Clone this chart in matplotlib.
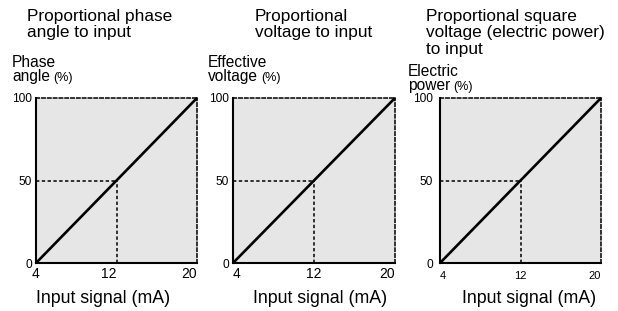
import matplotlib.pyplot as plt

plt.rcParams["font.family"] = ["Liberation Sans", "DejaVu Sans"]

W, H = 618, 311
DPI = 100

# data shared by the three panels
x_line = [4, 20]
y_line = [0, 100]
x_mid, y_mid = 12, 50
x_ticks = [4, 12, 20]
x_ticklabels = ["4", "12", "20"]
y_ticks = [0, 50, 100]
y_ticklabels = ["0", "50", "100"]

titles = [
    "Proportional phase\nangle to input",
    "Proportional\nvoltage to input",
    "Proportional square\nvoltage (electric power)\nto input",
]
ylabel_top = ["Phase", "Effective", "Electric"]
ylabel_bottom = ["angle", "voltage", "power"]
xlabel = "Input signal (mA)"

FILL = "#e6e6e6"
DASH = (0, (2.2, 1.6))


def fx(x):
    return x / W


def fy(y):
    return 1 - y / H


fig = plt.figure(figsize=(W / DPI, H / DPI), dpi=DPI)
renderer = fig.canvas.get_renderer()

# panel geometry in pixels: left, right, top, bottom
boxes = [(36, 197, 98, 263), (233, 395, 98, 263), (440, 601, 98, 263)]
title_xy = [(27, 9), (255, 9), (426, 9)]
ylab_x = [12, 208, 408]
ylab_y = [81, 81, 90]  # baseline of the second line
xlab_x = [103, 320, 529]
xtick_font = [10, 10, 8]
xtick_pad = [3.2, 3.2, 5.5]
ytick_pad = [3, 3, 5]
ha_first = ["center", "left", "left"]
ha_mid = ["right", "center", "center"]

for i in range(3):
    l, r, t, b = boxes[i]
    ax = fig.add_axes([fx(l), fy(b), fx(r - l), (b - t) / H])
    ax.set_facecolor(FILL)
    ax.set_xlim(x_line[0], x_line[1])
    ax.set_ylim(y_line[0], y_line[1])

    ax.plot(x_line, y_line, color="black", lw=1.9, solid_capstyle="butt",
            clip_on=False, zorder=3)
    ax.plot([x_line[0], x_mid], [y_mid, y_mid], color="black", lw=1.1,
            linestyle=DASH, zorder=2)
    ax.plot([x_mid, x_mid], [y_line[0], y_mid], color="black", lw=1.1,
            linestyle=DASH, zorder=2)

    for side in ["left", "bottom"]:
        ax.spines[side].set_linewidth(1.5)
    for side in ["top", "right"]:
        ax.spines[side].set_linewidth(1.1)
        ax.spines[side].set_linestyle(DASH)

    ax.set_xticks(x_ticks)
    ax.set_xticklabels(x_ticklabels)
    ax.set_yticks(y_ticks)
    ax.set_yticklabels(y_ticklabels)
    ax.tick_params(axis="x", length=0, pad=xtick_pad[i],
                   labelsize=xtick_font[i])
    ax.tick_params(axis="y", length=0, pad=ytick_pad[i], labelsize=8.6)
    labels = ax.get_xticklabels()
    labels[0].set_ha(ha_first[i])
    labels[1].set_ha(ha_mid[i])
    labels[2].set_ha("right")

    tx, ty = title_xy[i]
    fig.text(fx(tx), fy(ty), titles[i], ha="left", va="top",
             fontsize=12.4, linespacing=1.12)

    # two-line y label; "(%)" is set smaller after the second word
    fig.text(fx(ylab_x[i]), fy(ylab_y[i]),
             ylabel_top[i] + "\n" + ylabel_bottom[i],
             ha="left", va="baseline", fontsize=11.2, linespacing=0.95)
    tmp = fig.text(0, 0, ylabel_bottom[i], fontsize=11.2)
    word_w = tmp.get_window_extent(renderer).width
    tmp.remove()
    fig.text(fx(ylab_x[i] + word_w + 3), fy(ylab_y[i]), "(%)",
             ha="left", va="baseline", fontsize=9)

    fig.text(fx(xlab_x[i]), fy(303), xlabel, ha="center", va="baseline",
             fontsize=12.8)

fig.savefig("out.png", dpi=DPI)
